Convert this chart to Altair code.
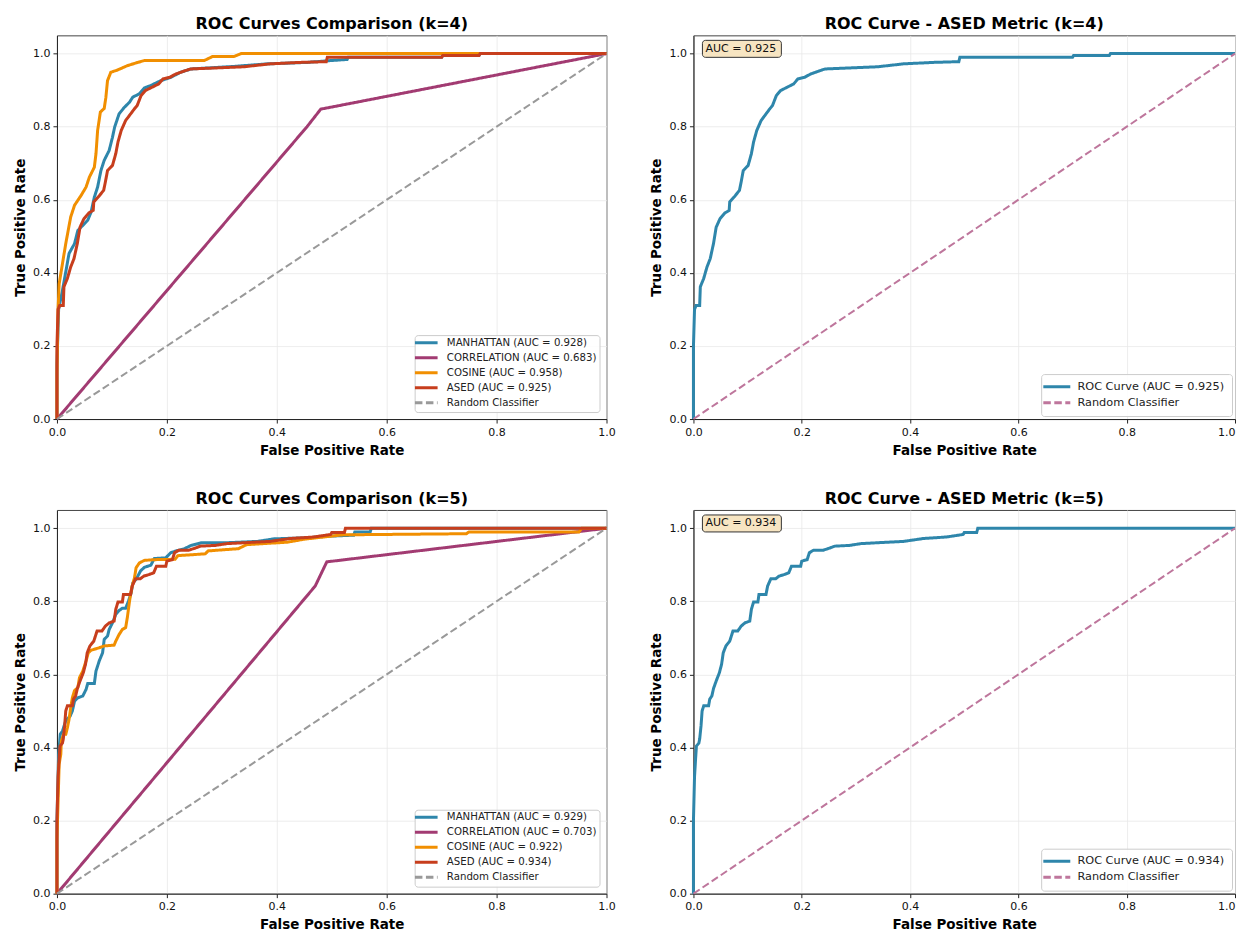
import altair as alt
import pandas as pd

FONT = "DejaVu Sans"

# ---------------- data ----------------
tick_values = [0.0, 0.2, 0.4, 0.6, 0.8, 1.0]

random_fpr = [0.0, 1.0]
random_tpr = [0.0, 1.0]

k4_manhattan_fpr = [0.0, 0.0, 0.003, 0.010, 0.022, 0.032, 0.038, 0.047, 0.056, 0.062, 0.068, 0.074, 0.080, 0.086, 0.095,
                    0.101, 0.105, 0.113, 0.122, 0.132, 0.138, 0.150, 0.159, 0.171, 0.189, 0.207, 0.225, 0.244, 0.322,
                    0.383, 0.456, 0.498, 0.528, 0.530, 0.700, 0.702, 0.768, 0.770, 1.0]
k4_manhattan_tpr = [0.0, 0.15, 0.30, 0.352, 0.453, 0.480, 0.516, 0.530, 0.544, 0.566, 0.607, 0.635, 0.680, 0.708, 0.735,
                    0.771, 0.799, 0.835, 0.852, 0.867, 0.881, 0.890, 0.906, 0.913, 0.926, 0.935, 0.949, 0.958, 0.965,
                    0.972, 0.976, 0.981, 0.984, 0.990, 0.990, 0.995, 0.995, 1.0, 1.0]

k4_correlation_fpr = [0.0, 0.455, 0.48, 1.0]
k4_correlation_tpr = [0.0, 0.800, 0.848, 1.0]

k4_cosine_fpr = [0.0, 0.0, 0.002, 0.004, 0.010, 0.016, 0.025, 0.032, 0.044, 0.053, 0.059, 0.068, 0.071, 0.074, 0.079,
                 0.086, 0.089, 0.092, 0.098, 0.110, 0.128, 0.147, 0.159, 0.268, 0.283, 0.322, 0.335, 1.0]
k4_cosine_tpr = [0.0, 0.12, 0.30, 0.37, 0.425, 0.48, 0.553, 0.585, 0.612, 0.635, 0.662, 0.689, 0.726, 0.79, 0.84,
                 0.85, 0.88, 0.926, 0.949, 0.955, 0.967, 0.976, 0.981, 0.981, 0.992, 0.992, 1.0, 1.0]

k4_ased_fpr = [0.0, 0.0, 0.002, 0.005, 0.0115, 0.0127, 0.0188, 0.025, 0.031, 0.037, 0.042, 0.049, 0.058, 0.066, 0.067,
               0.076, 0.085, 0.088, 0.092, 0.101, 0.107, 0.111, 0.117, 0.125, 0.134, 0.141, 0.146, 0.153, 0.161, 0.173,
               0.185, 0.193, 0.205, 0.216, 0.231, 0.243, 0.340, 0.388, 0.443, 0.490, 0.492, 0.700, 0.702, 0.768, 0.770,
               1.0]
k4_ased_tpr = [0.0, 0.20, 0.30, 0.311, 0.311, 0.362, 0.384, 0.416, 0.439, 0.480, 0.525, 0.548, 0.564, 0.571, 0.594,
               0.609, 0.626, 0.648, 0.680, 0.694, 0.726, 0.758, 0.790, 0.817, 0.835, 0.849, 0.858, 0.885, 0.899, 0.908,
               0.917, 0.931, 0.935, 0.944, 0.952, 0.958, 0.964, 0.972, 0.976, 0.978, 0.990, 0.990, 0.995, 0.995, 1.0,
               1.0]

k5_manhattan_fpr = [0.0, 0.0, 0.003, 0.006, 0.010, 0.016, 0.024, 0.028, 0.032, 0.038, 0.047, 0.053, 0.056, 0.068, 0.071,
                    0.077, 0.083, 0.086, 0.092, 0.095, 0.101, 0.107, 0.113, 0.119, 0.125, 0.130, 0.135, 0.138, 0.144,
                    0.152, 0.159, 0.171, 0.177, 0.198, 0.207, 0.219, 0.232, 0.244, 0.262, 0.304, 0.365, 0.395, 0.456,
                    0.492, 0.540, 0.542, 0.570, 0.572, 1.0]
k5_manhattan_tpr = [0.0, 0.20, 0.38, 0.436, 0.445, 0.473, 0.486, 0.500, 0.527, 0.536, 0.541, 0.559, 0.575, 0.575, 0.609,
                    0.637, 0.659, 0.696, 0.705, 0.723, 0.741, 0.764, 0.775, 0.781, 0.781, 0.800, 0.823, 0.850, 0.860,
                    0.883, 0.893, 0.899, 0.917, 0.919, 0.933, 0.939, 0.944, 0.953, 0.960, 0.960, 0.964, 0.971, 0.974,
                    0.978, 0.981, 0.990, 0.990, 1.0, 1.0]

k5_correlation_fpr = [0.0, 0.47, 0.491, 1.0]
k5_correlation_tpr = [0.0, 0.842, 0.908, 1.0]

k5_cosine_fpr = [0.0, 0.0, 0.004, 0.007, 0.008, 0.012, 0.016, 0.019, 0.022, 0.025, 0.028, 0.032, 0.038, 0.041, 0.047,
                 0.053, 0.057, 0.062, 0.077, 0.086, 0.104, 0.107, 0.113, 0.119, 0.125, 0.128, 0.132, 0.136, 0.141,
                 0.144, 0.150, 0.159, 0.177, 0.215, 0.220, 0.270, 0.275, 0.330, 0.345, 0.420, 0.450, 0.520, 0.745,
                 0.750, 0.950, 0.955, 1.0]
k5_cosine_tpr = [0.0, 0.15, 0.354, 0.382, 0.418, 0.436, 0.436, 0.454, 0.477, 0.509, 0.536, 0.556, 0.564, 0.591, 0.609,
                 0.637, 0.659, 0.666, 0.673, 0.678, 0.680, 0.691, 0.709, 0.723, 0.728, 0.755, 0.800, 0.837, 0.864,
                 0.892, 0.905, 0.912, 0.914, 0.915, 0.925, 0.930, 0.938, 0.944, 0.955, 0.962, 0.970, 0.982, 0.985,
                 0.990, 0.990, 1.0, 1.0]

k5_ased_fpr = [0.0, 0.0, 0.002, 0.004, 0.0055, 0.010, 0.0115, 0.014, 0.016, 0.019, 0.028, 0.030, 0.034, 0.037, 0.042,
               0.048, 0.052, 0.055, 0.060, 0.067, 0.073, 0.082, 0.088, 0.095, 0.104, 0.107, 0.111, 0.119, 0.121, 0.134,
               0.137, 0.143, 0.152, 0.158, 0.167, 0.176, 0.181, 0.198, 0.200, 0.210, 0.214, 0.222, 0.240, 0.252, 0.261,
               0.288, 0.310, 0.388, 0.425, 0.467, 0.498, 0.500, 0.523, 0.525, 1.0]
k5_ased_tpr = [0.0, 0.20, 0.32, 0.37, 0.404, 0.412, 0.423, 0.459, 0.500, 0.514, 0.514, 0.532, 0.541, 0.561, 0.582,
               0.605, 0.628, 0.659, 0.678, 0.691, 0.719, 0.719, 0.732, 0.741, 0.746, 0.778, 0.798, 0.798, 0.819, 0.819,
               0.842, 0.862, 0.862, 0.869, 0.873, 0.878, 0.896, 0.896, 0.910, 0.914, 0.933, 0.940, 0.940, 0.946, 0.951,
               0.953, 0.958, 0.964, 0.972, 0.976, 0.983, 0.988, 0.988, 1.0, 1.0]

k4_auc = {"MANHATTAN": "0.928", "CORRELATION": "0.683", "COSINE": "0.958", "ASED": "0.925"}
k5_auc = {"MANHATTAN": "0.929", "CORRELATION": "0.703", "COSINE": "0.922", "ASED": "0.934"}

metric_colors = ["#2E86AB", "#A23B72", "#F18F01", "#C73E1D", "#999999"]
single_colors = ["#2E86AB", "#BE769C"]
SOLID = [1, 0]
DASH = [7.5, 3.5]

# ---------------- helpers ----------------
xscale = alt.Scale(domain=[0, 1], nice=False, zero=False)
yscale = alt.Scale(domain=[0, 1.05], nice=False, zero=False)


def x_axis(right_edge=False):
    kw = dict(title="False Positive Rate", values=tick_values, format=".1f", labelFlush=False,
              titlePadding=6, labelPadding=3, tickSize=4)
    if right_edge:
        kw["labelAlign"] = {"condition": {"test": "datum.value >= 1", "value": "right"}, "value": "center"}
    return alt.Axis(**kw)


y_axis = alt.Axis(title="True Positive Rate", values=tick_values, format=".1f",
                  titlePadding=5, labelPadding=3, tickSize=4)

legend_left = alt.Legend(title=None, orient="bottom-right", offset=7, labelFontSize=10.2, labelFont=FONT,
                         labelColor="#222222", symbolType="M-3.24,0H3.24", symbolSize=49, symbolStrokeWidth=3,
                         symbolOffset=4, labelOffset=15.5, rowPadding=2, padding=2.5,
                         fillColor="rgba(255,255,255,0.85)", strokeColor="#cccccc", cornerRadius=3)
legend_right = alt.Legend(title=None, orient="bottom-right", offset=3, labelFontSize=11.3, labelFont=FONT,
                          labelColor="#222222", symbolType="M-3.375,0H3.375", symbolSize=64, symbolStrokeWidth=3,
                          symbolOffset=3, labelOffset=15, rowPadding=3, padding=7,
                          fillColor="rgba(255,255,255,0.85)", strokeColor="#cccccc", cornerRadius=3)


def build_df(names, fprs, tprs):
    rows = []
    for name, fx, fy in zip(names, fprs, tprs):
        for i, (a, b) in enumerate(zip(fx, fy)):
            rows.append({"series": name, "fpr": a, "tpr": b, "idx": i})
    return pd.DataFrame(rows)


def panel(title, names, fprs, tprs, colors, dashes, widths, legend, annot=None, right_edge=False, width=550):
    df = build_df(names, fprs, tprs)
    xa = x_axis(right_edge)
    layers = []
    for name, w in zip(names, widths):
        layers.append(
            alt.Chart(df).transform_filter(alt.datum.series == name)
            .mark_line(strokeWidth=w, strokeCap="butt", strokeJoin="miter")
            .encode(
                x=alt.X("fpr:Q", scale=xscale, axis=xa),
                y=alt.Y("tpr:Q", scale=yscale, axis=y_axis),
                color=alt.Color("series:N", scale=alt.Scale(domain=names, range=colors), legend=legend),
                strokeDash=alt.StrokeDash("series:N", scale=alt.Scale(domain=names, range=dashes), legend=legend),
                order=alt.Order("idx:Q"),
            )
        )
    if annot is not None:
        adf = pd.DataFrame({"label": [annot]})
        box = alt.Chart(adf).mark_rect(cornerRadius=3, fill="#F7E5C2", stroke="#333333", strokeWidth=1).encode(
            x=alt.value(9), x2=alt.value(88), y=alt.value(5), y2=alt.value(22))
        txt = alt.Chart(adf).mark_text(align="left", baseline="middle", fontSize=11, font=FONT,
                                       color="#111111").encode(
            x=alt.value(12), y=alt.value(13.5), text="label:N")
        layers += [box, txt]
    return alt.layer(*layers).properties(
        width=width, height=384,
        title=alt.TitleParams(text=title, fontSize=16, fontWeight="bold", font=FONT, color="#000000",
                              offset=3, anchor="middle"),
    )


def comparison(k, auc, man_f, man_t, cor_f, cor_t, cos_f, cos_t, ased_f, ased_t):
    names = [f"MANHATTAN (AUC = {auc['MANHATTAN']})", f"CORRELATION (AUC = {auc['CORRELATION']})",
             f"COSINE (AUC = {auc['COSINE']})", f"ASED (AUC = {auc['ASED']})", "Random Classifier"]
    return panel(f"ROC Curves Comparison (k={k})", names,
                 [man_f, cor_f, cos_f, ased_f, random_fpr], [man_t, cor_t, cos_t, ased_t, random_tpr],
                 metric_colors, [SOLID, SOLID, SOLID, SOLID, DASH], [3, 3, 3, 3, 2], legend_left)


def single(k, auc, f, t):
    names = [f"ROC Curve (AUC = {auc})", "Random Classifier"]
    return panel(f"ROC Curve - ASED Metric (k={k})", names, [f, random_fpr], [t, random_tpr],
                 single_colors, [SOLID, DASH], [3, 2], legend_right, annot=f"AUC = {auc}", right_edge=True,
                 width=542)


p1 = comparison(4, k4_auc, k4_manhattan_fpr, k4_manhattan_tpr, k4_correlation_fpr, k4_correlation_tpr,
                k4_cosine_fpr, k4_cosine_tpr, k4_ased_fpr, k4_ased_tpr)
p2 = single(4, k4_auc["ASED"], k4_ased_fpr, k4_ased_tpr)
p3 = comparison(5, k5_auc, k5_manhattan_fpr, k5_manhattan_tpr, k5_correlation_fpr, k5_correlation_tpr,
                k5_cosine_fpr, k5_cosine_tpr, k5_ased_fpr, k5_ased_tpr)
p4 = single(5, k5_auc["ASED"], k5_ased_fpr, k5_ased_tpr)

top = alt.hconcat(p1, p2, spacing=33).resolve_scale(color="independent", strokeDash="independent") \
    .resolve_legend(color="independent", strokeDash="independent")
bottom = alt.hconcat(p3, p4, spacing=33).resolve_scale(color="independent", strokeDash="independent") \
    .resolve_legend(color="independent", strokeDash="independent")

chart = (
    alt.vconcat(top, bottom, spacing=33)
    .resolve_scale(color="independent", strokeDash="independent")
    .resolve_legend(color="independent", strokeDash="independent")
    .properties(padding={"left": 5, "top": 7, "right": 0, "bottom": 0})
    .configure(font=FONT)
    .configure_view(stroke="#444444", strokeWidth=1)
    .configure_axis(labelFont=FONT, titleFont=FONT, labelFontSize=11, titleFontSize=13.5, titleFontWeight="bold",
                    labelColor="#111111", titleColor="#000000", tickColor="#222222", domainColor="#222222",
                    gridColor="#e8e8e8", gridWidth=0.8)
)

chart.save("out.html", embed_options={"renderer": "svg", "actions": False})
